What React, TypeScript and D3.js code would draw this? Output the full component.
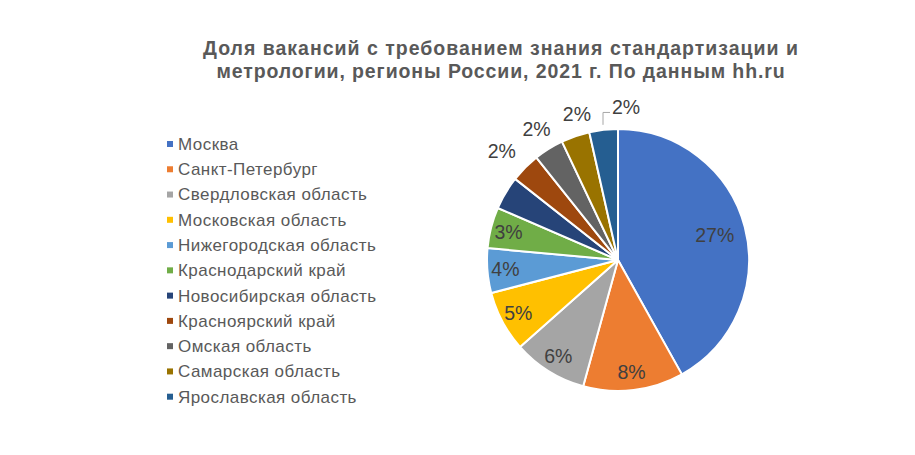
import React from "react";
import * as d3 from "d3";

const categories = [
  "Москва",
  "Санкт-Петербург",
  "Свердловская область",
  "Московская область",
  "Нижегородская область",
  "Краснодарский край",
  "Новосибирская область",
  "Красноярский край",
  "Омская область",
  "Самарская область",
  "Ярославская область",
];
const values = [27.4, 8.1, 6.0, 4.9, 3.6, 3.3, 2.7, 2.4, 2.4, 2.3, 2.3];
const labelTexts = ["27%", "8%", "6%", "5%", "4%", "3%", "", "2%", "2%", "2%", "2%"];
const colors = [
  "#4472C4", "#ED7D31", "#A5A5A5", "#FFC000", "#5B9BD5", "#70AD47",
  "#264478", "#9E480E", "#636363", "#997300", "#255E91",
];
const titleLines = [
  "Доля вакансий с требованием знания стандартизации и",
  "метрологии, регионы России, 2021 г. По данным hh.ru",
];

// layout (not data)
const W = 915, H = 455;
const cx = 618, cy = 260, R = 131;
const outsideFrom = 7; // slices from this index get outside labels
const outerDx = [0, 0, 0, 0, 0, 0, 0, -7, 0, 9, 25];

export default function App() {
  const pie = d3.pie<number>().sort(null).value((d) => d);
  const arcs = pie(values);
  const arc = d3.arc<d3.PieArcDatum<number>>().innerRadius(0).outerRadius(R);
  const font = "Arial, 'Liberation Sans', sans-serif";

  const legendX = 167, legendY0 = 144, legendStep = 25.27;

  return (
    <svg width={W} height={H} style={{ position: "absolute", left: 0, top: 0, background: "#fff" }}>
      <rect width={W} height={H} fill="#fff" />
      {titleLines.map((t, i) => (
        <text key={i} x={501} y={55 + i * 23} textAnchor="middle" fontFamily={font}
          fontWeight="bold" fontSize={19.5} letterSpacing={i === 0 ? 1.0 : 0.9} fill="#595959">{t}</text>
      ))}
      <g transform={`translate(${cx},${cy})`}>
        {arcs.map((a, i) => (
          <path key={i} d={arc(a) || ""} fill={colors[i]} stroke="#fff" strokeWidth={2} strokeLinejoin="round" />
        ))}
        {arcs.map((a, i) => {
          const mid = (a.startAngle + a.endAngle) / 2;
          if (!labelTexts[i]) return null;
          if (i < outsideFrom) {
            const r = values[i] > 20 ? 100 : 113;
            const x = Math.sin(mid) * r, y = -Math.cos(mid) * r;
            return (
              <text key={i} x={x} y={y} dy="0.35em" textAnchor="middle" fontFamily={font}
                fontSize={19.5} fill="#404040">{labelTexts[i]}</text>
            );
          }
          const r = 154;
          const x = Math.sin(mid) * r + outerDx[i], y = -Math.cos(mid) * r;
          const hasLeader = outerDx[i] > 15;
          let leader = null;
          if (hasLeader) {
            const sx = Math.sin(mid) * (R + 5), sy = -Math.cos(mid) * (R + 5);
            const ey = y + 5.5;
            const ex = x - 16;
            leader = <path d={`M${sx},${sy}V${ey}H${ex}`} fill="none" stroke="#A6A6A6" strokeWidth={1} />;
          }
          return (
            <g key={i}>
              {leader}
              <text x={x} y={y} dy="0.35em" textAnchor="middle" fontFamily={font}
                fontSize={19.5} fill="#404040">{labelTexts[i]}</text>
            </g>
          );
        })}
      </g>
      {categories.map((c, i) => {
        const y = legendY0 + i * legendStep;
        return (
          <g key={c}>
            <rect x={legendX} y={y - 3} width={6} height={6} fill={colors[i]} />
            <text x={178} y={y} dy="0.35em" fontFamily={font} fontSize={17} letterSpacing={0.44} fill="#595959">{c}</text>
          </g>
        );
      })}
    </svg>
  );
}
